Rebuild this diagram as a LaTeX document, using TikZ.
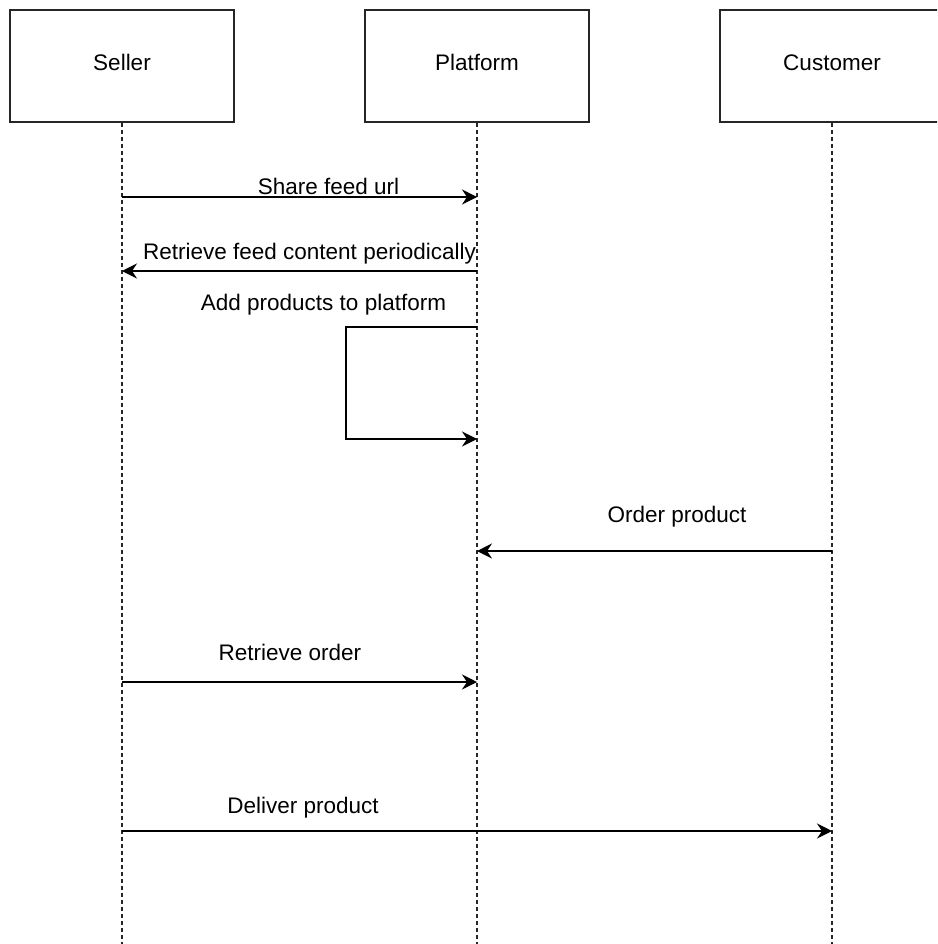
\documentclass[tikz,border=0pt]{standalone}
\usepackage{fontspec}
\setmainfont{Liberation Sans}
\usetikzlibrary{arrows.meta}
\begin{document}
\begin{tikzpicture}[x=1pt,y=-1pt,
  actor/.style={draw=black!85,line width=1.5pt,fill=white,minimum width=224pt,minimum height=112pt,inner sep=0pt,font=\fontsize{22.5}{26}\selectfont},
  lifeline/.style={draw=black!85,line width=1.2pt,dash pattern=on 4pt off 3pt},
  msg/.style={draw=black,line width=1.4pt,-{Stealth[length=15pt,width=15pt,inset=5pt]}},
  lbl/.style={anchor=base,inner sep=0pt,font=\fontsize{22.5}{26}\selectfont}]
\useasboundingbox (0,0) rectangle (937,944);
\clip (0,0) rectangle (937,944);
\fill[white] (0,0) rectangle (937,944);
% lifelines
\coordinate (sB) at (122,944);
\coordinate (pB) at (477,944);
\coordinate (cB) at (832,944);
\node[actor] (seller) at (122,66) {};
\node[actor] (platform) at (477,66) {};
\node[actor] (customer) at (832,66) {};
\draw[lifeline] (seller.south) -- (sB);
\draw[lifeline] (platform.south) -- (pB);
\draw[lifeline] (customer.south) -- (cB);
\node[lbl] (tseller) at (122,71) {Seller};
\node[lbl] (tplatform) at (477,71) {Platform};
\node[lbl] (tcustomer) at (832,71) {Customer};
% message points
\coordinate (s1) at (122,197); \coordinate (p1) at (477,197);
\coordinate (s2) at (122,271); \coordinate (p2) at (477,271);
\coordinate (p3a) at (477,327); \coordinate (p3b) at (477,439);
\coordinate (p4) at (477,551); \coordinate (c4) at (832,551);
\coordinate (s5) at (122,682); \coordinate (p5) at (477,682);
\coordinate (s6) at (122,831); \coordinate (c6) at (832,831);
% messages
\draw[msg] (s1) -- (p1);
\node[lbl] (l1) at (328.5,194) {Share feed url};
\draw[msg] (p2) -- (s2);
\node[lbl] (l2) at (309.5,259) {Retrieve feed content periodically};
\draw[msg] (p3a) -- (346,327) -- (346,439) -- (p3b);
\node[lbl] (l3) at (323.5,310) {Add products to platform};
\draw[msg] (c4) -- (p4);
\node[lbl] (l4) at (677,522) {Order product};
\draw[msg] (s5) -- (p5);
\node[lbl] (l5) at (290,660) {Retrieve order};
\draw[msg] (s6) -- (c6);
\node[lbl] (l6) at (303,813) {Deliver product};
\end{tikzpicture}
\end{document}
